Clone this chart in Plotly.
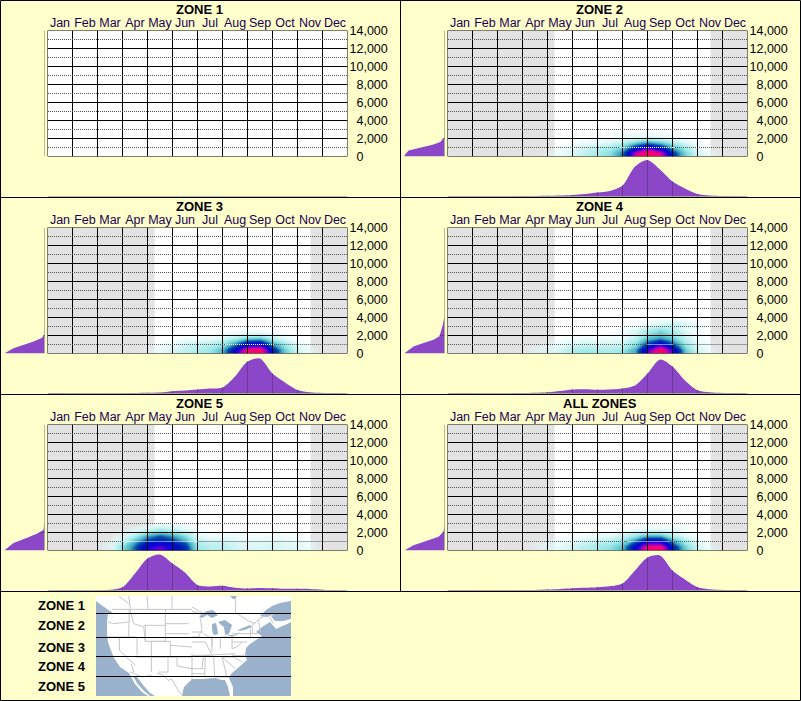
import numpy as np
import plotly.graph_objects as go

W, H = 801, 701
MONTHS = ["Jan","Feb","Mar","Apr","May","Jun","Jul","Aug","Sep","Oct","Nov","Dec"]
ELEV_TICKS = [0,2000,4000,6000,8000,10000,12000,14000]
ELEV_LABELS = ["\u20070","\u20072,000","\u20074,000","\u20076,000","\u20078,000","10,000","12,000","14,000"]
ZONES = ["ZONE 1","ZONE 2","ZONE 3","ZONE 4","ZONE 5","ALL ZONES"]
MAP_LABELS = ["ZONE 1","ZONE 2","ZONE 3","ZONE 4","ZONE 5"]

MONTH_POINTS = [0,.5,1,1.5,2,2.5,3,3.5,4,4.5,5,5.5,6,6.5,7,7.5,8,8.5,9,9.5,10,10.5,11,11.5,12]
H2 = [.3,.3,.2,.2,.2,.3,.4,.5,.7,1,1.5,2.5,4,5.5,11,30,36.5,27,15,8,2.5,1,.5,.4,.2]
H3 = [.5,.5,.3,.2,.2,.2,.3,.5,.7,1,2.3,3,4,5,6,17,32,35,20,11,3.5,1.2,.6,.4,.2]
H4 = [.3,.4,.3,.2,.2,.3,.4,.8,1.3,2.5,4,4.3,3.8,4,5,8,20,34,27,13,3.3,1.2,.6,.4,.2]
H5 = [0,0,0,0,.1,.7,3.3,17,32,36,27,18,5.5,4,4.7,2.7,2,2.6,2.2,1.7,1.7,1.6,.8,.2,0]
HA = [.4,.4,.3,.2,.2,.3,.4,.6,1,1.6,2.3,2.8,3.3,4.2,7,20,33,35,20,11,3.3,1.2,.6,.4,.2]

E2, W2 = [0,187,672,970,1344,1600,2165], [40.3,39.6,36,24.3,11,4.3,0]
E3, W3 = [0,597,1344,1717,2200], [40.3,31,11,2.7,0]
E4, W4 = [0,784,1157,1530,1904,3200,4200], [40.3,31,21,11,5,1.7,0]
E5, W5 = [0,820,1380,1940,2315,3250], [40.3,31,18,6,1,0]
EA, WA = [0,597,1232,1530,2090,3000], [40.3,31,14,6,1,0]

HEAT_MONTHS = [2,2.5,3,3.5,4,4.5,5,5.5,6,6.5,7,7.5,8,8.5,9,9.5,10,10.5,11]
HEAT_ELEVS = [0,400,800,1200,1600,2000,2400,2800,3200,3600,4000]
Z2 = [
 [0,0,0,0,1,3,8,13,18,23,40,85,100,90,50,25,9,2,0],
 [0,0,0,0,1,3,7,12,17,22,38,82,100,85,48,24,8,2,0],
 [0,0,0,0,0,2,6,11,15,19,30,62,82,66,38,19,6,1,0],
 [0,0,0,0,0,1,4,7,10,13,22,42,55,44,26,13,3,0,0],
 [0,0,0,0,0,0,1,3,5,7,13,26,36,28,16,7,1,0,0],
 [0,0,0,0,0,0,0,0,1,2,5,9,13,10,5,2,0,0,0],
 [0,0,0,0,0,0,0,0,0,0,1,2,3,2,1,0,0,0,0],
 [0,0,0,0,0,0,0,0,0,0,0,0,0,0,0,0,0,0,0]]
Z3 = [
 [0,0,0,0,1,3,8,13,16,20,32,62,95,98,55,27,10,3,0],
 [0,0,0,0,1,3,7,12,15,19,30,60,94,96,52,25,9,2,0],
 [0,0,0,0,0,2,5,10,13,16,24,46,72,76,42,20,7,1,0],
 [0,0,0,0,0,1,3,7,9,11,17,32,52,55,30,14,4,0,0],
 [0,0,0,0,0,0,1,3,4,6,10,20,34,36,18,7,1,0,0],
 [0,0,0,0,0,0,0,0,1,1,4,8,12,14,7,2,0,0,0],
 [0,0,0,0,0,0,0,0,0,0,1,2,3,3,1,0,0,0,0],
 [0,0,0,0,0,0,0,0,0,0,0,0,0,0,0,0,0,0,0]]
Z4 = [
 [0,0,0,2,5,10,16,19,17,17,20,34,72,100,70,28,10,3,0],
 [0,0,0,2,4,9,15,18,16,16,19,33,70,98,68,27,9,2,0],
 [0,0,0,1,3,6,11,14,12,12,14,26,56,80,54,22,7,1,0],
 [0,0,0,0,1,3,6,8,7,7,9,20,42,58,40,17,5,1,0],
 [0,0,0,0,0,1,2,3,3,3,5,13,30,38,28,12,3,0,0],
 [0,0,0,0,0,0,1,1,1,1,3,10,24,30,23,9,2,0,0],
 [0,0,0,0,0,0,0,0,0,1,2,7,18,26,18,7,1,0,0],
 [0,0,0,0,0,0,0,0,0,0,1,5,13,19,13,5,1,0,0],
 [0,0,0,0,0,0,0,0,0,0,0,1,3,8,12,8,3,0,0],
 [0,0,0,0,0,0,0,0,0,0,0,0,1,3,6,3,1,0,0],
 [0,0,0,0,0,0,0,0,0,0,0,0,0,0,0,0,0,0,0]]
Z5 = [
 [0,3,22,42,66,74,62,50,20,14,14,10,7,7,9,7,6,3,0],
 [0,3,22,42,64,72,61,48,19,13,13,9,7,7,8,7,5,3,0],
 [0,2,16,36,55,62,54,42,16,11,11,8,6,6,7,6,4,2,0],
 [0,1,10,28,44,50,44,30,11,8,8,6,4,4,5,4,3,1,0],
 [0,0,4,17,34,42,35,22,6,3,4,3,2,2,2,2,1,0,0],
 [0,0,1,9,22,30,24,14,3,1,1,1,1,1,1,1,0,0,0],
 [0,0,0,3,9,15,11,5,1,0,0,0,0,0,0,0,0,0,0],
 [0,0,0,0,2,4,3,1,0,0,0,0,0,0,0,0,0,0,0],
 [0,0,0,0,0,0,0,0,0,0,0,0,0,0,0,0,0,0,0]]
ZA = [
 [0,0,0,1,3,6,9,14,18,22,32,62,92,95,55,27,10,3,0],
 [0,0,0,1,3,5,9,13,17,21,30,60,92,93,52,25,9,2,0],
 [0,0,0,1,2,4,7,11,14,17,24,48,74,74,42,20,7,1,0],
 [0,0,0,0,1,2,4,7,10,12,18,34,54,54,30,14,4,0,0],
 [0,0,0,0,0,1,1,3,5,6,11,22,36,36,18,7,1,0,0],
 [0,0,0,0,0,0,0,0,1,2,5,10,16,15,7,2,0,0,0],
 [0,0,0,0,0,0,0,0,0,0,0,2,4,5,5,2,0,0,0],
 [0,0,0,0,0,0,0,0,0,0,0,0,0,0,0,0,0,0,0]]

# months between which the 1,000 ft dotted line runs white over dark colours
WHITE_DOTS = [None,(6.9,9.1),(7.1,9.05),(8.0,9.0),(3.0,6.0),(7.2,8.9)]
GRAY_UNTIL = [None,4.28,4.28,4.28,4.28,4.28]
GRAY_FROM = [None,10.52,10.52,10.52,10.52,10.52]
HISTS = [None,H2,H3,H4,H5,HA]
ELEVS = [None,E2,E3,E4,E5,EA]
WIDTHS = [None,W2,W3,W4,W5,WA]
HEATS = [None,Z2,Z3,Z4,Z5,ZA]

# Map outlines, in screen units of the inset map
MAP_FRAME = [(96,596),(291,596),(291,696),(96,696)]
WATER = [
 [(96,601),(103,606),(110,611),(113,613),(108,613),(107,622),(107,633),(108,642),(110,648),(114,658),(120,667),(129,673),(131,677),(135,684),(142,692),(148,696),(96,696)],
 [(133,676),(137,677),(143,685),(150,693),(155,696),(150,696),(143,690),(137,683)],
 [(182,696),(184,687),(189,682),(192,679),(202,679),(215,678),(222,680),(225,680),(228,687),(230,696)],
 [(233,696),(233,687),(229,678),(231,674),(239,667),(247,660),(245,655),(246,648),(250,644),(257,639),(262,636),(256,632),(262,627),(270,622),(273,626),(276,629),(287,624),(291,622),(291,696)],
 [(260,616),(266,610),(272,606),(280,603),(291,601),(291,619),(283,621),(275,621),(271,616),(276,613),(267,617)],
 [(199,617),(202,614),(207,611),(213,610),(218,615),(212,618),(207,615),(202,618)],
 [(212,624),(216,623),(217,627),(218,634),(215,635),(213,634),(212,629)],
 [(218,622),(225,620),(232,625),(229,634),(225,635),(224,627),(220,624)],
 [(227,635),(234,635),(240,632),(238,634),(232,637)],
 [(237,631),(240,629),(250,625),(252,627),(245,630)],
 [(230,596),(237,596),(235,599),(233,599)],
]
ISLAND = [(96,598),(101,601),(108,605),(112,610),(110,611),(103,606),(96,601)]
BORDERS_W = [
 [(60,52),(300,52)],[(110,12),(115,50)],[(165,12),(168,50)],[(240,12),(240,50)],[(80,12),(110,35)],
 [(48,90),(65,95),(110,90)],[(112,52),(110,135)],[(115,55),(125,95),(155,105),(160,148)],
 [(45,135),(135,135)],[(155,100),(220,100)],[(220,52),(220,100)],[(220,95),(290,95)],[(220,125),(290,125)],
 [(160,100),(160,148),(220,148),(220,100)],[(135,135),(135,190)],[(82,135),(82,175),(130,220)],
 [(178,148),(178,195)],[(130,195),(178,195)],[(178,148),(235,148),(235,195),(178,195)],
 [(235,160),(300,165)],[(235,195),(300,195)],[(178,195),(178,240)],[(178,195),(228,195),(228,240),(200,240)],
 [(115,240),(150,255),(178,250)],[(228,195),(255,195),(255,222),(300,230)],
 [(195,243),(215,250),(228,265),(240,262),(255,290),(270,310)],[(118,215),(125,240)]]
BORDERS_E = [
 [(0,58),(15,62),(35,70)],[(0,135),(20,135),(30,110),(25,80)],[(0,120),(35,120)],[(35,125),(60,140),(60,165)],
 [(60,130),(60,180)],[(85,135),(85,170)],[(85,135),(110,135)],[(120,130),(120,170)],[(120,125),(175,125)],
 [(120,150),(165,150)],[(175,110),(175,140)],[(180,100),(182,125)],[(200,85),(205,120)],[(175,125),(205,125)],
 [(205,80),(225,65),(245,95)],[(0,150),(40,150)],[(0,190),(55,190)],[(40,150),(60,190)],[(40,190),(130,185)],
 [(120,190),(165,190)],[(120,170),(135,165),(150,150)],[(0,185),(0,230)],[(0,230),(35,230)],[(35,190),(30,230)],
 [(40,195),(38,255)],[(65,195),(68,255)],[(90,195),(105,255)],[(68,255),(110,255)],[(90,195),(125,195),(150,210)],
 [(90,195),(130,230)],[(130,20),(130,60),(165,85),(190,95)],[(180,100),(215,70)],[(35,65),(0,45)],
 [(0,230),(0,265)],[(0,245),(35,245)]]
ZONE_LINES = [613.5,637.5,656.5,676.5]

BG = "#FFFFCC"
PURPLE = "#8C47C9"
DARK_PURPLE = "#6A3A92"
GRAY = "#E3E3E3"
WATER_COL = "#9AB2CC"
STATE = "#C6C6C6"
AXIS_COL = "#77776A"
DOT = "#555555"
FONT = "Liberation Sans"
COLORSCALE = [
 [0,"rgba(225,250,250,0)"],[.02,"rgba(225,250,250,.5)"],[.08,"rgb(215,245,245)"],[.2,"rgb(150,232,232)"],
 [.33,"rgb(70,175,195)"],[.43,"rgb(0,70,170)"],[.55,"rgb(0,15,190)"],[.65,"rgb(20,0,225)"],
 [.76,"rgb(140,0,195)"],[.88,"rgb(235,0,140)"],[1,"rgb(255,0,95)"]]

fig = go.Figure()
layout = {}
shapes = []
annotations = []

def fx(p): return p / W
def fy(p): return 1 - p / H

def add_axes(n, x0, x1, ytop, ybot, xr, yr, **kw):
    s = "" if n == 1 else str(n)
    xa = dict(domain=[fx(x0), fx(x1)], range=xr, anchor="y"+s, showgrid=False, zeroline=False, visible=False, fixedrange=True, automargin=False)
    ya = dict(domain=[fy(ybot), fy(ytop)], range=yr, anchor="x"+s, showgrid=False, zeroline=False, visible=False, fixedrange=True, automargin=False)
    xa.update(kw.get("xa", {})); ya.update(kw.get("ya", {}))
    layout["xaxis"+s] = xa
    layout["yaxis"+s] = ya
    return "x"+s, "y"+s

n = 0
for i, name in enumerate(ZONES):
    col, row = i % 2, i // 2
    ox, oy = 400 * col, 197 * row
    gx0, gx1 = ox + 47.5, ox + 347.5
    gy0, gy1 = oy + 30.5, oy + 156.5

    # main grid axes
    n += 1
    xm, ym = add_axes(n, gx0, gx1, gy0, gy1, [0,12], [0,14000], xa=dict(
        visible=True, side="top", tickmode="array", tickvals=[m+.5 for m in range(12)], ticktext=MONTHS,
        ticks="", showline=False, ticklabelstandoff=0, tickfont=dict(family=FONT, size=12.5, color="#200050")), ya=dict(
        visible=True, side="right", tickmode="array", tickvals=ELEV_TICKS, ticktext=ELEV_LABELS,
        ticks="", showline=False, ticklabelstandoff=1, tickfont=dict(family=FONT, size=12.5, color="#000000")))

    shapes.append(dict(type="rect", xref=xm, yref=ym, x0=0, x1=12, y0=0, y1=14000, fillcolor="white", line_width=0, layer="below"))
    if GRAY_UNTIL[i] is not None:
        shapes.append(dict(type="rect", xref=xm, yref=ym, x0=0, x1=GRAY_UNTIL[i], y0=0, y1=14000, fillcolor=GRAY, line_width=0, layer="below"))
        shapes.append(dict(type="rect", xref=xm, yref=ym, x0=GRAY_FROM[i], x1=12, y0=0, y1=14000, fillcolor=GRAY, line_width=0, layer="below"))

    if HEATS[i] is not None:
        z = HEATS[i]
        fig.add_trace(go.Heatmap(x=HEAT_MONTHS, y=HEAT_ELEVS[:len(z)], z=z, xaxis=xm, yaxis=ym, zmin=0, zmax=100,
                                 zsmooth="best", colorscale=COLORSCALE, showscale=False, hoverinfo="skip"))

    # solid grid
    sx, sy = [], []
    for m in range(13):
        sx += [m, m, None]; sy += [0, 14000, None]
    for e in ELEV_TICKS:
        sx += [0, 12, None]; sy += [e, e, None]
    fig.add_trace(go.Scatter(x=sx, y=sy, xaxis=xm, yaxis=ym, mode="lines", line=dict(color="black", width=1), cliponaxis=False, hoverinfo="skip"))
    # dotted mid lines
    dx, dy = [], []
    for e in ELEV_TICKS[:-1]:
        e1 = e + 1000
        if e1 == 1000 and WHITE_DOTS[i]:
            a, b = WHITE_DOTS[i]
            dx += [.02, a, None, b, 12, None]; dy += [e1, e1, None, e1, e1, None]
        else:
            dx += [.02, 12, None]; dy += [e1, e1, None]
    fig.add_trace(go.Scatter(x=dx, y=dy, xaxis=xm, yaxis=ym, mode="lines", line=dict(color=DOT, width=1, dash="1px,1px"), hoverinfo="skip"))
    if WHITE_DOTS[i]:
        a, b = WHITE_DOTS[i]
        fig.add_trace(go.Scatter(x=[a,b], y=[1000,1000], xaxis=xm, yaxis=ym, mode="lines", line=dict(color="white", width=1, dash="1px,1px"), hoverinfo="skip"))

    # left elevation profile
    n += 1
    xl, yl = add_axes(n, ox + 4, ox + 44.5, gy0, gy1, [40.5,0], [0,14000])
    if ELEVS[i] is not None:
        fig.add_trace(go.Scatter(x=WIDTHS[i], y=ELEVS[i], xaxis=xl, yaxis=yl, mode="lines", line=dict(color=PURPLE, width=0),
                                 fill="tozerox", fillcolor=PURPLE, hoverinfo="skip"))
        w2000 = float(np.interp(2000, ELEVS[i], WIDTHS[i]))
        fig.add_trace(go.Scatter(x=[0,w2000], y=[2000,2000], xaxis=xl, yaxis=yl, mode="lines", line=dict(color=DARK_PURPLE, width=1), hoverinfo="skip"))
    fig.add_trace(go.Scatter(x=[0,0], y=[0,14000], xaxis=xl, yaxis=yl, mode="lines", line=dict(color=AXIS_COL, width=1), cliponaxis=False, hoverinfo="skip"))

    # bottom seasonal profile
    n += 1
    xb, yb = add_axes(n, gx0, gx1, oy + 159.5, oy + 196.5, [0,12], [0,37])
    if HISTS[i] is not None:
        fig.add_trace(go.Scatter(x=MONTH_POINTS, y=HISTS[i], xaxis=xb, yaxis=yb, mode="lines", line=dict(color=PURPLE, width=0, shape="spline", smoothing=.8),
                                 fill="tozeroy", fillcolor=PURPLE, hoverinfo="skip"))
        vx, vy = [], []
        for m in range(1, 12):
            vx += [m, m, None]; vy += [0, HISTS[i][MONTH_POINTS.index(m)], None]
        fig.add_trace(go.Scatter(x=vx, y=vy, xaxis=xb, yaxis=yb, mode="lines", line=dict(color=DARK_PURPLE, width=1), hoverinfo="skip"))
    fig.add_trace(go.Scatter(x=[0,12], y=[0,0], xaxis=xb, yaxis=yb, mode="lines", line=dict(color=AXIS_COL, width=1), cliponaxis=False, hoverinfo="skip"))

    annotations.append(dict(xref="paper", yref="paper", x=fx(ox + 199.5), y=fy(oy + 9), text=f"<b>{name}</b>", showarrow=False,
                            xanchor="center", yanchor="middle", font=dict(family=FONT, size=13, color="black")))

# inset map
n += 1
xmap, ymap = add_axes(n, 96, 291, 596, 696, [96,291], [696,596])
def poly(pts, color):
    fig.add_trace(go.Scatter(x=[p[0] for p in pts]+[pts[0][0]], y=[p[1] for p in pts]+[pts[0][1]], xaxis=xmap, yaxis=ymap, mode="lines",
                             line=dict(color=color, width=0), fill="toself", fillcolor=color, hoverinfo="skip"))
poly(MAP_FRAME, "white")
for w in WATER:
    poly(w, WATER_COL)
poly(ISLAND, "white")
bx, by = [], []
for line in BORDERS_W:
    bx += [92 + p[0]/3 for p in line] + [None]; by += [592 + p[1]/3 for p in line] + [None]
for line in BORDERS_E:
    bx += [192 + p[0]/3 for p in line] + [None]; by += [592 + p[1]/3 for p in line] + [None]
fig.add_trace(go.Scatter(x=bx, y=by, xaxis=xmap, yaxis=ymap, mode="lines", line=dict(color=STATE, width=1), hoverinfo="skip"))
zx, zy = [], []
for y in ZONE_LINES:
    zx += [96, 291, None]; zy += [y, y, None]
fig.add_trace(go.Scatter(x=zx, y=zy, xaxis=xmap, yaxis=ymap, mode="lines", line=dict(color="black", width=1), hoverinfo="skip"))
for lab, yc in zip(MAP_LABELS, [605,625,647,666,686]):
    annotations.append(dict(xref="paper", yref="paper", x=fx(36), y=fy(yc), text=f"<b>{lab}</b>", showarrow=False, xanchor="left", yanchor="middle",
                            font=dict(family=FONT, size=13, color="black")))

# panel frames
def frame(x0, y0, x1, y1):
    shapes.append(dict(type="line", xref="paper", yref="paper", x0=fx(x0), y0=fy(y0), x1=fx(x1), y1=fy(y1), line=dict(color="black", width=1), layer="above"))
frame(0.5, .5, 800.5, .5); frame(0.5, 700.5, 800.5, 700.5); frame(.5, .5, .5, 700.5); frame(800.5, .5, 800.5, 700.5)
frame(400.5, .5, 400.5, 591.5)
for y in (197.5, 394.5, 591.5):
    frame(.5, y, 800.5, y)

fig.update_layout(width=W, height=H, autosize=False, margin=dict(l=0,r=0,t=0,b=0,pad=0), paper_bgcolor=BG, plot_bgcolor="rgba(0,0,0,0)",
                  showlegend=False, shapes=shapes, annotations=annotations, **layout)
fig.write_html("out.html", config=dict(displayModeBar=False), post_script="document.body.style.margin='0';")
